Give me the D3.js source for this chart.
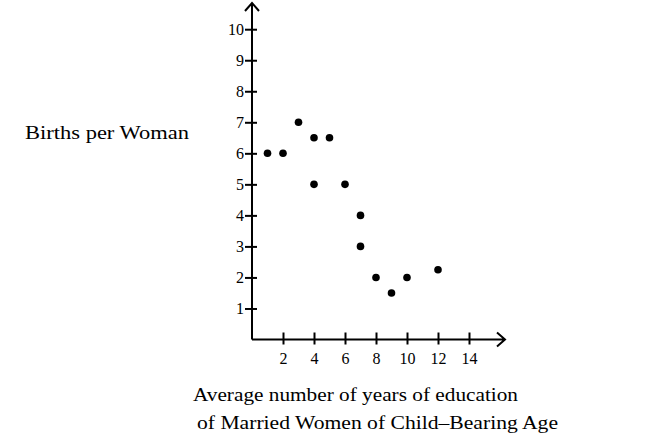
<!DOCTYPE html>
<html>
<head>
<meta charset="utf-8">
<script src="https://cdn.jsdelivr.net/npm/d3@7"></script>
<style>
  body { margin: 0; background: #fff; }
  svg { display: block; }
</style>
</head>
<body>
<div id="chart"></div>
<script>
// years of education vs births per woman
const education = [1, 2, 3, 4, 5, 4, 6, 7, 7, 8, 9, 10, 12];
const births = [6, 6, 7, 6.5, 6.5, 5, 5, 4, 3, 2, 1.5, 2, 2.25];
const xTicks = [2, 4, 6, 8, 10, 12, 14];
const yTicks = [1, 2, 3, 4, 5, 6, 7, 8, 9, 10];

const width = 650, height = 439;

let svg = d3.select('#chart')
    .append('svg')
    .attr('width', width)
    .attr('height', height);

let x = d3.scaleLinear().domain([0, 14]).range([252, 469]);
let y = d3.scaleLinear().domain([0, 10]).range([339.5, 29.2]);

const font = 'Liberation Serif, Times New Roman, serif';

// y axis ticks (cross the axis line)
let yAxis = svg.append('g')
    .attr('transform', 'translate(' + x(0) + ',0)')
    .call(d3.axisLeft(y).tickValues(yTicks).tickSize(7).tickPadding(1));
yAxis.select('.domain').remove();
yAxis.selectAll('.tick line')
    .attr('x1', 5)
    .attr('stroke', '#000')
    .attr('stroke-width', 2);
yAxis.selectAll('.tick text')
    .style('font-family', font)
    .style('font-size', '16px')
    .attr('fill', '#000');

// x axis ticks
let xAxis = svg.append('g')
    .attr('transform', 'translate(0,' + y(0) + ')')
    .call(d3.axisBottom(x).tickValues(xTicks).tickSize(5).tickPadding(8));
xAxis.select('.domain').remove();
xAxis.selectAll('.tick line')
    .attr('y1', -7)
    .attr('stroke', '#000')
    .attr('stroke-width', 2);
xAxis.selectAll('.tick text')
    .style('font-family', font)
    .style('font-size', '16px')
    .attr('fill', '#000');

// axis lines with open arrow heads
let x0 = x(0), y0 = y(0);
svg.append('path')
    .attr('d', 'M' + x0 + ',' + y0 + 'H505 M497,' + (y0 - 7) + 'L505,' + y0 + 'L497,' + (y0 + 7))
    .attr('fill', 'none')
    .attr('stroke', '#000')
    .attr('stroke-width', 2);
svg.append('path')
    .attr('d', 'M' + x0 + ',' + y0 + 'V3 M' + (x0 - 7) + ',11L' + x0 + ',3L' + (x0 + 7) + ',11')
    .attr('fill', 'none')
    .attr('stroke', '#000')
    .attr('stroke-width', 2);

// points
svg.selectAll('.dot')
    .data(education)
    .enter().append('circle')
    .attr('class', 'dot')
    .attr('cx', function(d){ return x(d); })
    .attr('cy', function(d, i){ return y(births[i]); })
    .attr('r', 3.8)
    .attr('fill', '#000');

// labels
svg.append('text')
    .attr('x', 25).attr('y', 139)
    .attr('textLength', 164).attr('lengthAdjust', 'spacingAndGlyphs')
    .style('font-family', font).style('font-size', '18px')
    .text('Births per Woman');

svg.append('text')
    .attr('x', 193).attr('y', 401)
    .attr('textLength', 325).attr('lengthAdjust', 'spacingAndGlyphs')
    .style('font-family', font).style('font-size', '18px')
    .text('Average number of years of education');

svg.append('text')
    .attr('x', 197).attr('y', 429)
    .attr('textLength', 361).attr('lengthAdjust', 'spacingAndGlyphs')
    .style('font-family', font).style('font-size', '18px')
    .text('of Married Women of Child\u2013Bearing Age');
</script>
</body>
</html>
